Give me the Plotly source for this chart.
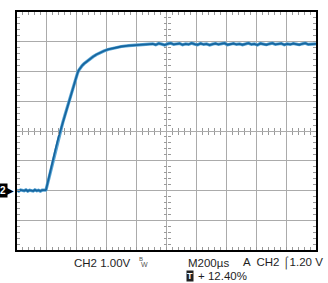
import plotly.graph_objects as go

# --- data (time in µs relative to trigger, voltage in V) ---
t_base = [-248, -236, -224, -212, -200, -188, -176, -164, -152, -140, -128, -116, -104, -92, -80, -68, -58]
v_base = [0.01, -0.02, 0.02, 0.00, -0.01, 0.02, -0.02, 0.01, 0.00, -0.02, 0.02, -0.01, 0.01, -0.02, 0.01, 0.00, 0.01]

t_rise = [-54, -45, -30, -10, 10, 30, 43, 58, 72, 86, 99, 113, 127, 142, 150, 157, 165, 175, 188, 200,
          217, 238, 261, 283, 305, 333, 361, 405, 450, 500, 560, 620]
v_rise = [0.02, 0.20, 0.52, 0.96, 1.40, 1.80, 2.02, 2.28, 2.52, 2.77, 3.00, 3.25, 3.48, 3.72, 3.85, 3.95,
          4.04, 4.12, 4.20, 4.26, 4.33, 4.42, 4.50, 4.57, 4.63, 4.69, 4.74, 4.80, 4.84, 4.87, 4.89, 4.91]

t_flat = [640, 660, 680, 700, 720, 740, 760, 780, 800, 820, 840, 860, 880, 900, 920, 940, 960, 980,
          1000, 1020, 1040, 1060, 1080, 1100, 1120, 1140, 1160, 1180, 1200, 1220, 1240, 1260, 1280,
          1300, 1320, 1340, 1360, 1380, 1400, 1420, 1440, 1460, 1480, 1500, 1520, 1540, 1560, 1580,
          1600, 1620, 1640, 1660, 1680, 1700, 1720, 1740, 1752]
v_flat = [4.91, 4.93, 4.90, 4.94, 4.92, 4.89, 4.93, 4.95, 4.91, 4.92,
          4.94, 4.90, 4.93, 4.91, 4.95, 4.92, 4.90, 4.94, 4.91, 4.93,
          4.89, 4.92, 4.94, 4.91, 4.93, 4.95, 4.90, 4.92, 4.94, 4.91,
          4.93, 4.90, 4.92, 4.95, 4.91, 4.93, 4.89, 4.94, 4.92, 4.90,
          4.93, 4.95, 4.91, 4.92, 4.94, 4.90, 4.93, 4.91, 4.94, 4.92,
          4.90, 4.93, 4.95, 4.91, 4.92, 4.94, 4.93]

t = t_base + t_rise + t_flat
v = v_base + v_rise + v_flat

x_range = [-248, 1752]
y_range = [-2, 6]

fig = go.Figure()
fig.add_trace(go.Scatter(x=t, y=v, mode="lines", line=dict(color="#5aa6d6", width=3.2),
                         hoverinfo="skip", showlegend=False))
fig.add_trace(go.Scatter(x=t, y=v, mode="lines", line=dict(color="#17669f", width=1.8),
                         hoverinfo="skip", showlegend=False))

grid = "#ababab"
tickc = "#9a9a9a"
common_x = dict(range=x_range, dtick=200, tick0=-48, showticklabels=False, zeroline=False,
                fixedrange=True)
common_y = dict(range=y_range, dtick=1, tick0=0, showticklabels=False, zeroline=False,
                fixedrange=True)

fig.update_layout(
    width=328, height=283,
    margin=dict(l=17, r=11, t=10, b=33),
    paper_bgcolor="white", plot_bgcolor="white",
    xaxis=dict(**common_x, showgrid=True, gridcolor=grid, gridwidth=1,
               showline=True, linecolor="black", linewidth=2, mirror="ticks",
               ticks="inside", ticklen=3, tickcolor=tickc,
               minor=dict(dtick=40, tick0=-48, ticks="inside", ticklen=3, tickcolor=tickc, showgrid=False)),
    yaxis=dict(**common_y, showgrid=True, gridcolor=grid, gridwidth=1,
               showline=True, linecolor="black", linewidth=2, mirror="ticks",
               ticks="inside", ticklen=3, tickcolor=tickc,
               minor=dict(dtick=0.2, tick0=0, ticks="inside", ticklen=3, tickcolor=tickc, showgrid=False)),
    xaxis2=dict(**common_x, overlaying="x", anchor="free", position=0.5, showgrid=False,
                showline=False, ticks="",
                minor=dict(dtick=40, tick0=-48, ticks="inside", ticklen=3, tickcolor=tickc, showgrid=False)),
    xaxis3=dict(**common_x, overlaying="x", anchor="free", position=0.5, showgrid=False,
                showline=False, ticks="",
                minor=dict(dtick=40, tick0=-48, ticks="outside", ticklen=3, tickcolor=tickc, showgrid=False)),
    yaxis2=dict(**common_y, overlaying="y", anchor="free", position=0.5, showgrid=False,
                showline=False, ticks="",
                minor=dict(dtick=0.2, tick0=0, ticks="inside", ticklen=3, tickcolor=tickc, showgrid=False)),
    yaxis3=dict(**common_y, overlaying="y", anchor="free", position=0.5, showgrid=False,
                showline=False, ticks="",
                minor=dict(dtick=0.2, tick0=0, ticks="outside", ticklen=3, tickcolor=tickc, showgrid=False)),
)

# invisible traces to activate the center-cross axes
for xa, ya in [("x2", "y2"), ("x3", "y3")]:
    fig.add_trace(go.Scatter(x=[None], y=[None], xaxis=xa, yaxis=ya, showlegend=False, hoverinfo="skip"))

fam = "Liberation Sans, Arial, sans-serif"
font = dict(family=fam, size=11.5, color="#1e1e1e")
ann = [
    dict(x=0.285, y=-0.055, text="CH2 1.00V"),
    dict(x=0.415, y=-0.038, text="B", font=dict(family=fam, size=6, color="#555")),
    dict(x=0.425, y=-0.060, text="W", font=dict(family=fam, size=7, color="#555")),
    dict(x=0.639, y=-0.055, text="M200µs"),
    dict(x=0.889, y=-0.055, text="A  CH2 ⌠1.20 V"),
    dict(x=0.598, y=-0.11, text="+ 12.40%", xanchor="left"),
]
for a in ann:
    a.setdefault("font", font)
    a.setdefault("xanchor", "center")
    fig.add_annotation(xref="paper", yref="paper", showarrow=False, yanchor="middle", **a)
# boxed T for trigger position
fig.add_annotation(xref="paper", yref="paper", x=0.577, y=-0.11, text="<b>T</b>", showarrow=False,
                   bgcolor="#222", font=dict(family=fam, size=9, color="white"),
                   borderpad=0, xanchor="center", yanchor="middle")
# channel ground marker: black tag with pointed tip
fig.add_annotation(xref="paper", yref="y", x=-0.002, y=0, text="▶", showarrow=False,
                   font=dict(family="DejaVu Sans", size=10, color="black"),
                   xanchor="right", yanchor="middle")
fig.add_annotation(xref="paper", yref="y", x=-0.031, y=0, text="<b>2</b>", showarrow=False,
                   bgcolor="black", font=dict(family=fam, size=10, color="white"),
                   borderpad=1, xanchor="right", yanchor="middle")

fig.write_html("out.html")
